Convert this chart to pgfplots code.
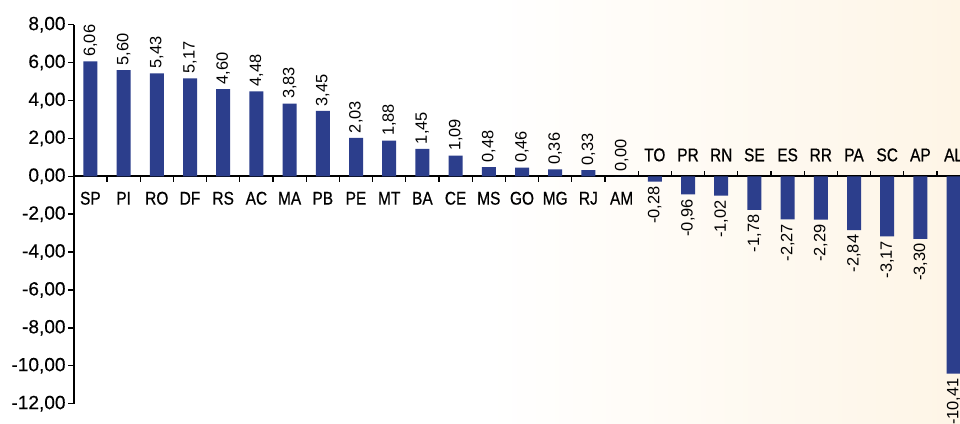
\documentclass[border=0pt]{standalone}
\usepackage{fontspec}
\setmainfont{Liberation Sans}
\newfontfamily\catfont[FakeStretch=0.84,FakeBold=0.6]{Liberation Sans}
\newfontfamily\tickfont[FakeBold=0.3]{Liberation Sans}
\usepackage{pgfplots}
\pgfplotsset{compat=1.18}
\definecolor{barblue}{RGB}{44,62,140}
\definecolor{peach}{RGB}{254,245,230}
\begin{document}
\begin{tikzpicture}
\fill[white] (-67.8pt,-185.8pt) rectangle (298.2pt,132.2pt);
\shade[left color=white, right color=peach] (298.2pt,-185.8pt) rectangle (652.2pt,132.2pt);
\begin{axis}[
  at={(0pt,0pt)}, anchor=origin,
  x=24.9pt, y=14.2125pt,
  xmin=-0.5, xmax=27, ymin=-12, ymax=8,
  axis x line=middle, axis y line=left,
  axis line style={-, line width=1.3pt, black},
  clip=false,
  ytick={-12,-10,...,8},
  ytick align=outside,
  major tick length=4pt,
  tick style={line width=1pt, black},
  yticklabel style={font=\tickfont\fontsize{14.3}{16}\selectfont, inner sep=2pt, /pgf/number format/.cd, fixed, fixed zerofill, precision=2, use comma, assume math mode=true},
  xtick={0.5,1.5,...,15.5},
  xticklabels={},
  xtick align=center,
  xtick style={yshift=-2pt},
  extra x ticks={16.5,17.5,...,26.5},
  extra x tick labels={},
  extra x tick style={xtick style={yshift=4pt}},
  every node near coord/.append style={font=\fontsize{12.3}{14}\selectfont, rotate=90},
]
\addplot[ybar, bar width=10.5pt, bar shift=0pt, fill=barblue, draw=none,
  point meta=y,
  nodes near coords={\pgfmathprintnumber[fixed,fixed zerofill,precision=2,use comma,assume math mode=true]{\pgfplotspointmeta}},
  every node near coord/.append style={anchor=west}]
coordinates {
(0,6.06) (1,5.60) (2,5.43) (3,5.17) (4,4.60) (5,4.48) (6,3.83) (7,3.45)
(8,2.03) (9,1.88) (10,1.45) (11,1.09) (12,0.48) (13,0.46) (14,0.36) (15,0.33) (16,0.00)
};
\addplot[ybar, bar width=10.5pt, bar shift=0pt, fill=barblue, draw=none,
  point meta=y,
  nodes near coords={\pgfmathprintnumber[fixed,fixed zerofill,precision=2,use comma,assume math mode=true]{\pgfplotspointmeta}},
  every node near coord/.append style={anchor=east}]
coordinates {
(17,-0.28) (18,-0.96) (19,-1.02) (20,-1.78) (21,-2.27) (22,-2.29) (23,-2.84) (24,-3.17) (25,-3.30) (26,-10.41)
};
\tikzset{cp/.style={font=\catfont\fontsize{13.8}{15}\selectfont, anchor=center, yshift=-16.5pt, inner sep=0pt},
         cn/.style={font=\catfont\fontsize{13.8}{15}\selectfont, anchor=center, yshift=16pt, inner sep=0pt}}
\node[cp] at (axis cs:0,0) {SP};
\node[cp] at (axis cs:1,0) {PI};
\node[cp] at (axis cs:2,0) {RO};
\node[cp] at (axis cs:3,0) {DF};
\node[cp] at (axis cs:4,0) {RS};
\node[cp] at (axis cs:5,0) {AC};
\node[cp] at (axis cs:6,0) {MA};
\node[cp] at (axis cs:7,0) {PB};
\node[cp] at (axis cs:8,0) {PE};
\node[cp] at (axis cs:9,0) {MT};
\node[cp] at (axis cs:10,0) {BA};
\node[cp] at (axis cs:11,0) {CE};
\node[cp] at (axis cs:12,0) {MS};
\node[cp] at (axis cs:13,0) {GO};
\node[cp] at (axis cs:14,0) {MG};
\node[cp] at (axis cs:15,0) {RJ};
\node[cp] at (axis cs:16,0) {AM};
\node[cn] at (axis cs:17,0) {TO};
\node[cn] at (axis cs:18,0) {PR};
\node[cn] at (axis cs:19,0) {RN};
\node[cn] at (axis cs:20,0) {SE};
\node[cn] at (axis cs:21,0) {ES};
\node[cn] at (axis cs:22,0) {RR};
\node[cn] at (axis cs:23,0) {PA};
\node[cn] at (axis cs:24,0) {SC};
\node[cn] at (axis cs:25,0) {AP};
\node[cn] at (axis cs:26,0) {AL};
\end{axis}
\pgfresetboundingbox
\useasboundingbox (-67.8pt,-185.8pt) rectangle (652.2pt,132.2pt);
\end{tikzpicture}
\end{document}
